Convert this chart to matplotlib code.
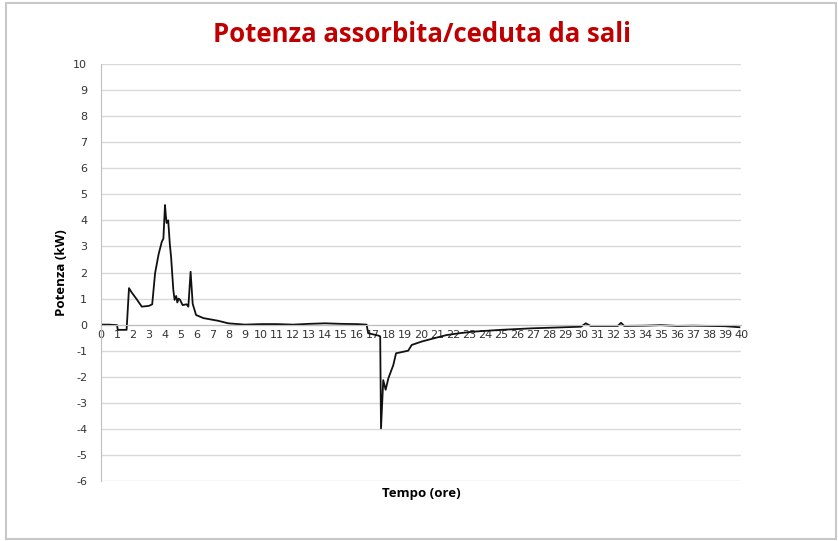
import matplotlib.pyplot as plt
import matplotlib.patches as patches
import numpy as np

# time (hours) and power (kW)
tempo = [0.0, 0.5, 1.0, 1.05, 1.6, 1.75, 1.9, 2.2, 2.55, 3.0, 3.2, 3.38, 3.6, 3.8, 3.9, 4.0, 4.05,
         4.1, 4.2, 4.3, 4.38, 4.52, 4.6, 4.7, 4.77, 4.85, 4.94, 5.1, 5.35, 5.46, 5.6, 5.73, 5.94,
         6.4, 7.3, 7.96, 9.0, 10.0, 11.0, 12.0, 13.0, 14.0, 15.0, 16.0, 16.6, 16.7, 17.33, 17.45,
         17.5, 17.64, 17.79, 17.96, 18.27, 18.44, 18.9, 19.2, 19.42, 20.04, 20.77, 21.6, 22.4,
         23.27, 25.0, 27.0, 28.0, 30.0, 30.3, 30.6, 32.3, 32.5, 32.7, 34.0, 35.0, 36.0, 37.0,
         38.0, 39.0, 39.9]
potenza = [0.0, 0.0, -0.02, -0.2, -0.2, 1.4, 1.25, 1.0, 0.69, 0.72, 0.78, 1.97, 2.7, 3.18, 3.3,
           4.59, 4.2, 3.9, 4.0, 3.1, 2.6, 1.33, 0.95, 1.1, 0.85, 1.0, 0.95, 0.75, 0.78, 0.69, 2.03,
           0.8, 0.37, 0.25, 0.15, 0.05, 0.0, 0.02, 0.02, 0.0, 0.03, 0.05, 0.03, 0.02, 0.0, -0.33,
           -0.42, -0.45, -3.98, -2.13, -2.5, -2.06, -1.55, -1.1, -1.04, -1.0, -0.78, -0.65, -0.53,
           -0.4, -0.33, -0.27, -0.2, -0.14, -0.12, -0.08, 0.05, -0.05, -0.05, 0.07, -0.05, -0.04,
           -0.02, -0.05, -0.04, -0.05, -0.06, -0.1]

x_ticks = list(range(0, 41))
y_ticks = list(range(-6, 11))

plt.rcParams["axes.unicode_minus"] = False

fig = plt.figure(figsize=(8.38, 5.41), dpi=100)
ax = fig.add_axes([101 / 838, 1 - 481 / 541, 640 / 838, 417 / 541])

# outer chart frame
fig.patches.append(patches.Rectangle((6 / 838, 2 / 541), 830 / 838, 536 / 541,
                                     transform=fig.transFigure, fill=False,
                                     edgecolor="#c8c8c8", linewidth=1.5))

ax.plot(tempo, potenza, color="#111111", linewidth=1.3)

ax.set_xlim(0, 40)
ax.set_ylim(-6, 10)
ax.set_yticks(y_ticks)
ax.set_xticks(x_ticks)
ax.grid(axis="y", color="#d9d9d9", linewidth=1)
ax.set_axisbelow(True)

for s in ["top", "right"]:
    ax.spines[s].set_visible(False)
ax.spines["left"].set_color("#bfbfbf")
ax.spines["bottom"].set_position(("data", 0))
ax.spines["bottom"].set_color("#bfbfbf")
ax.tick_params(axis="both", length=0, labelsize=8, labelcolor="#333333")
ax.tick_params(axis="x", pad=4)
ax.tick_params(axis="y", pad=10)

ax.set_ylabel("Potenza (kW)", fontsize=9.5, fontweight="bold", family="Open Sans", labelpad=4)
fig.text(421 / 838, 1 - 493 / 541, "Tempo (ore)", fontsize=9.5, fontweight="bold",
         family="Open Sans", ha="center", va="center")
fig.text(422 / 838, 1 - 35 / 541, "Potenza assorbita/ceduta da sali", fontsize=18.5,
         fontweight="bold", family="Open Sans", color="#c00000", ha="center", va="center")

fig.savefig("out.png", dpi=100)
